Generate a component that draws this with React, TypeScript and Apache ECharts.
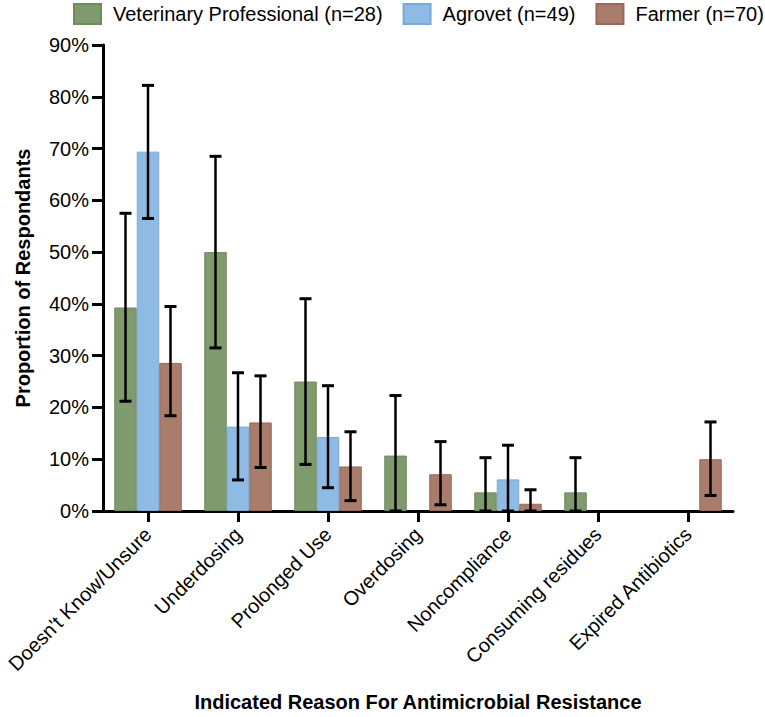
import React, { useEffect, useRef } from "react";
import * as echarts from "echarts";

const categories = [
  "Doesn't Know/Unsure",
  "Underdosing",
  "Prolonged Use",
  "Overdosing",
  "Noncompliance",
  "Consuming residues",
  "Expired Antibiotics",
];

const seriesNames = [
  "Veterinary Professional (n=28)",
  "Agrovet (n=49)",
  "Farmer (n=70)",
];

const vetValues = [39.3, 50.0, 25.0, 10.7, 3.6, 3.6, 0];
const vetUpper = [57.5, 68.5, 41.0, 22.3, 10.3, 10.3, 0];
const vetLower = [21.2, 31.5, 9.0, 0, 0, 0, 0];

const agroValues = [69.4, 16.3, 14.3, 0, 6.1, 0, 0];
const agroUpper = [82.2, 26.7, 24.2, 0, 12.7, 0, 0];
const agroLower = [56.5, 6.0, 4.5, 0, 0, 0, 0];

const farmerValues = [28.6, 17.1, 8.6, 7.1, 1.4, 0, 10.0];
const farmerUpper = [39.5, 26.1, 15.3, 13.4, 4.1, 0, 17.2];
const farmerLower = [18.4, 8.4, 2.0, 1.2, 0, 0, 3.0];

const yTicks = [0, 10, 20, 30, 40, 50, 60, 70, 80, 90];

const fills = ["#7f9b6e", "#8ebae3", "#a97c6c"];
const borders = ["#6e8b5e", "#7aa9d6", "#98695a"];

const FONT = "'Liberation Sans', Arial, Helvetica, sans-serif";

export default function App() {
  const ref = useRef<HTMLDivElement>(null);

  useEffect(() => {
    if (!ref.current) return;
    const chart = echarts.init(ref.current, undefined, { renderer: "svg" });

    const groups = [
      { v: vetValues, hi: vetUpper, lo: vetLower },
      { v: agroValues, hi: agroUpper, lo: agroLower },
      { v: farmerValues, hi: farmerUpper, lo: farmerLower },
    ];

    const barSeries = groups.map((g, k) => ({
      name: seriesNames[k],
      type: "bar",
      data: g.v.map((val) => (val > 0 ? val : "-")),
      barWidth: "25%",
      barGap: "0%",
      itemStyle: { color: fills[k], borderColor: borders[k], borderWidth: 1 },
      z: 2,
    }));

    const errSeries = groups.map((g, k) => ({
      name: seriesNames[k] + " err",
      type: "custom",
      z: 5,
      data: g.v
        .map((val, i) => (val > 0 ? [i, g.lo[i], g.hi[i]] : null))
        .filter((d) => d !== null),
      encode: { x: 0, y: [1, 2] },
      renderItem: (params: any, api: any) => {
        const i = api.value(0);
        const lo = api.value(1);
        const hi = api.value(2);
        const band = api.size([1, 0])[0];
        const bw = band * 0.25;
        const off = (k - 1) * bw;
        const pHi = api.coord([i, hi]);
        const pLo = api.coord([i, lo]);
        const x = pHi[0] + off;
        const cap = 6;
        const st = { stroke: "#000", lineWidth: 3 };
        return {
          type: "group",
          children: [
            { type: "line", shape: { x1: x, y1: pHi[1], x2: x, y2: pLo[1] }, style: { stroke: "#000", lineWidth: 2.5 } },
            { type: "line", shape: { x1: x - cap, y1: pHi[1], x2: x + cap, y2: pHi[1] }, style: st },
            { type: "line", shape: { x1: x - cap, y1: pLo[1], x2: x + cap, y2: pLo[1] }, style: st },
          ],
        };
      },
    }));

    chart.setOption({
      animation: false,
      textStyle: { fontFamily: FONT },
      legend: {
        data: seriesNames,
        left: 73,
        top: 3,
        padding: 0,
        width: 700,
        itemWidth: 27,
        itemHeight: 20,
        itemGap: 20,
        icon: "rect",
        textStyle: { fontSize: 20, color: "#000", fontFamily: FONT, padding: [0, 0, 0, 7] },
      },
      grid: { left: 103, right: 32, top: 45, bottom: 200, containLabel: false },
      xAxis: {
        type: "category",
        data: categories,
        name: "Indicated Reason For Antimicrobial Resistance",
        nameLocation: "middle",
        nameGap: 181,
        nameTextStyle: { fontSize: 20, fontWeight: "bold", color: "#000", fontFamily: FONT },
        axisLine: { lineStyle: { color: "#000", width: 3 } },
        axisTick: { show: true, alignWithLabel: true, length: 11, lineStyle: { color: "#000", width: 3 } },
        axisLabel: { rotate: 45, fontSize: 20, color: "#000", margin: 20, interval: 0, fontFamily: FONT },
      },
      yAxis: {
        type: "value",
        min: yTicks[0],
        max: yTicks[yTicks.length - 1],
        interval: 10,
        name: "Proportion of Respondants",
        nameLocation: "middle",
        nameGap: 70,
        nameTextStyle: { fontSize: 20, fontWeight: "bold", color: "#000", fontFamily: FONT },
        axisLine: { show: true, lineStyle: { color: "#000", width: 3 } },
        axisTick: { show: true, length: 11, lineStyle: { color: "#000", width: 3 } },
        axisLabel: { formatter: "{value}%", fontSize: 20, color: "#000", margin: 14, fontFamily: FONT },
        splitLine: { show: false },
      },
      series: [...barSeries, ...errSeries],
    } as any);

    return () => chart.dispose();
  }, []);

  return (
    <div
      ref={ref}
      style={{ position: "fixed", left: 0, top: 0, width: 765, height: 717, background: "#fff" }}
    />
  );
}
